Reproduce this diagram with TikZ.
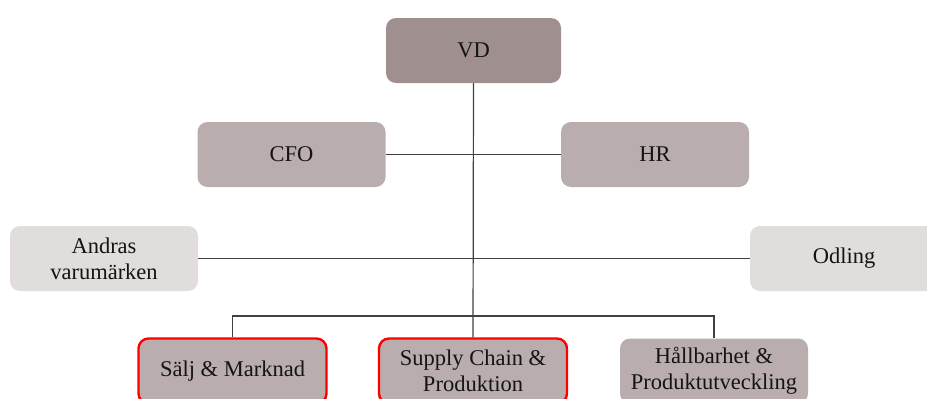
\documentclass[tikz,border=0pt]{standalone}
\usepackage{fontspec}
\setmainfont{Liberation Serif}
\begin{document}
\begin{tikzpicture}[x=1pt,y=-1pt,
  box/.style={rectangle,rounded corners=10pt,minimum width=188pt,minimum height=65pt,
    inner sep=2pt,align=center,text=black!92,font=\fontsize{22.5}{26}\selectfont},
  top/.style={box,fill={rgb,255:red,160;green,143;blue,143},minimum width=175pt},
  mid/.style={box,fill={rgb,255:red,185;green,173;blue,173}},
  side/.style={box,fill={rgb,255:red,225;green,221;blue,220}},
  key/.style={mid,draw={rgb,255:red,255;green,0;blue,0},line width=2.4pt},
  link/.style={draw=black!75,line width=1.2pt}]
\useasboundingbox (0,0) rectangle (927,399);
\clip (0,0) rectangle (927,399);
% boxes
\node[top]  (vd)     at (473.5,50.5)  {VD};
\node[mid]  (cfo)    at (291.5,154.5) {CFO};
\node[mid]  (hr)     at (655,154.5)   {HR};
\node[side] (andras) at (104,258.5)   {Andras\\varumärken};
\node[side] (odling) at (844,258.5)   {Odling};
\node[key]  (salj)   at (232.5,371)   {Sälj \& Marknad};
\node[key]  (supply) at (473,371)     {Supply Chain \&\\Produktion};
\node[mid]  (hall)   at (714,371)     {Hållbarhet \&\\Produktutveckling};
% connectors
\coordinate (bus) at (473,316);
\draw[link] (cfo.east) -- (hr.west);
\draw[link] (andras.east) -- (odling.west);
\draw[link] (vd.south) -- (supply.north);
\draw[link] (salj.north) |- (bus) -| (hall.north);
\end{tikzpicture}
\end{document}
